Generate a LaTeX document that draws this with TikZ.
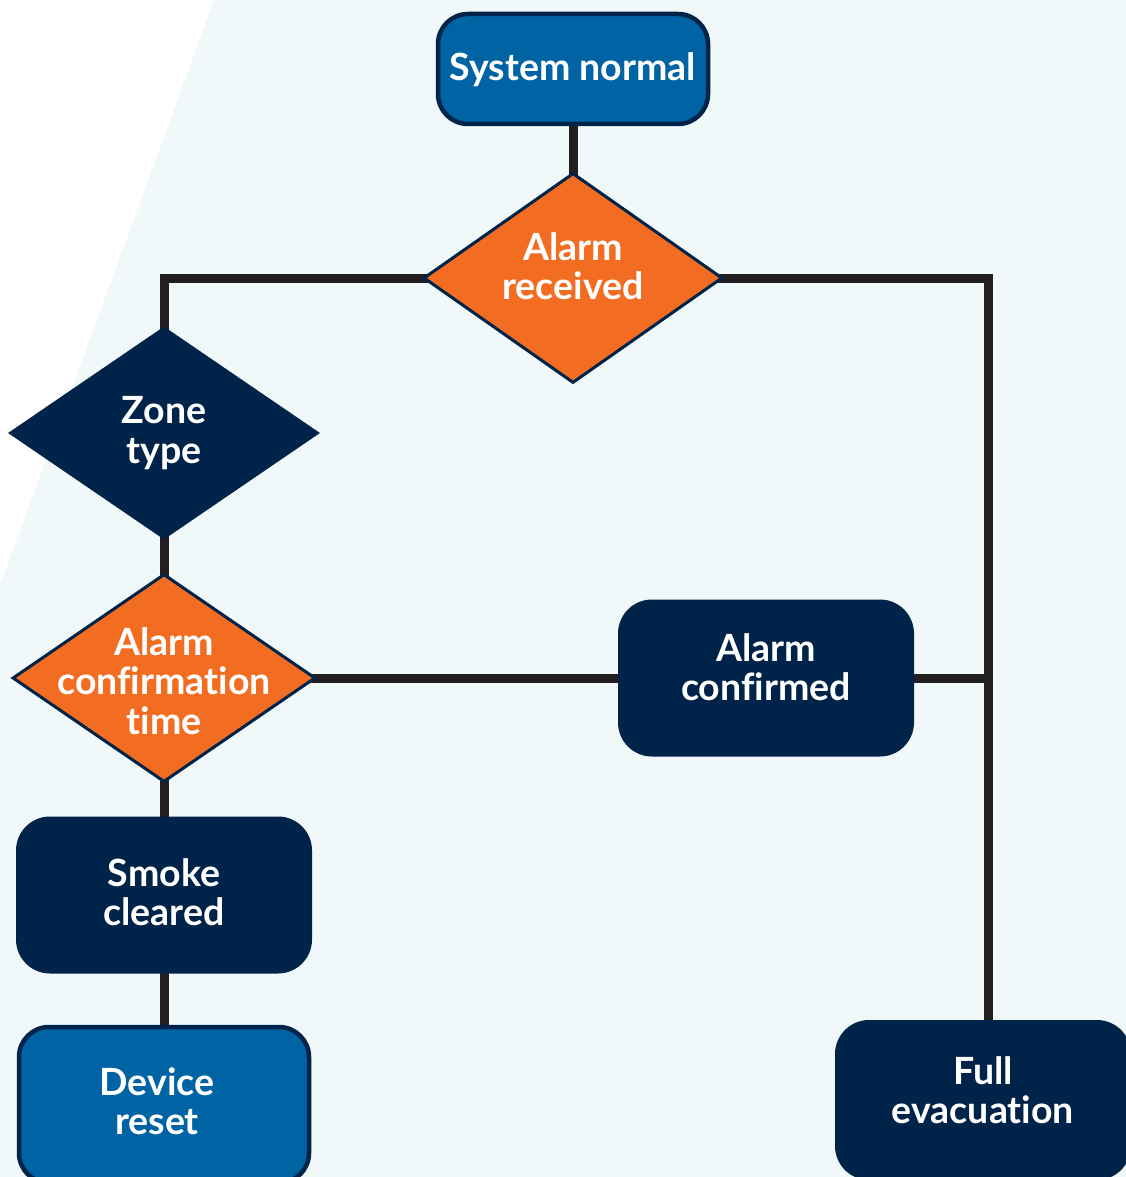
\documentclass[tikz,border=0pt]{standalone}
\usepackage{fontspec}
\setmainfont{Lato}[Ligatures={NoCommon,NoRare}]
\usetikzlibrary{shapes.geometric,backgrounds}
\pgfdeclarelayer{wires}
\pgfsetlayers{background,wires,main}
\definecolor{bgblue}{HTML}{F0F8FA}
\definecolor{navy}{HTML}{00234A}
\definecolor{midblue}{HTML}{0064A4}
\definecolor{orng}{HTML}{F26D21}
\definecolor{wire}{HTML}{231F20}
\begin{document}
\begin{tikzpicture}[x=1pt,y=-1pt,
  lbl/.style={text=white,font=\fontsize{37.5}{39.5}\selectfont\bfseries,align=center,inner sep=0pt},
  navybox/.style={rectangle,rounded corners=34pt,fill=navy,minimum width=296pt,minimum height=157pt,inner sep=0pt},
  bluebox/.style={rectangle,rounded corners=30pt,fill=midblue,draw=navy,line width=4.5pt,inner sep=0pt},
  orangedia/.style={diamond,fill=orng,draw=navy,line width=3pt,inner sep=0pt},
  navydia/.style={diamond,fill=navy,inner sep=0pt},
  wireline/.style={draw=wire,line width=9pt,line join=miter}]
\useasboundingbox (0,0) rectangle (1126,1177);
\begin{scope}[on background layer]
\fill[bgblue] (0,0) rectangle (1126,1177);
\fill[white] (0,0) -- (214,0) -- (0,585) -- cycle;
\end{scope}
\begin{scope}
\clip (0,0) rectangle (1126,1177);
\node[bluebox,minimum width=270pt,minimum height=110pt,
  label={[lbl,yshift=-1pt]center:System normal}] (sn) at (573,69) {};
\node[orangedia,minimum width=299pt,minimum height=210pt,
  label={[lbl,yshift=12pt]center:Alarm\\received}] (ar) at (573,278) {};
\node[navydia,minimum width=312pt,minimum height=213pt,
  label={[lbl]center:Zone\\type}] (zt) at (164,433) {};
\node[orangedia,minimum width=303pt,minimum height=208pt,
  label={[lbl,yshift=-3pt]center:Alarm\\confirmation\\time}] (act) at (164,678) {};
\node[navybox,
  label={[lbl,yshift=11pt]center:Alarm\\confirmed}] (ac) at (766,678) {};
\node[navybox,
  label={[lbl,yshift=3pt]center:Smoke\\cleared}] (sc) at (164,895) {};
\node[bluebox,minimum width=290pt,minimum height=156pt,
  label={[lbl,xshift=-7pt,yshift=4pt]center:Device\\reset}] (dr) at (164,1105) {};
\node[navybox,minimum height=160pt,
  label={[lbl,yshift=10pt]center:Full\\evacuation}] (fe) at (983,1100) {};
\coordinate (jct) at (988,678);
\begin{pgfonlayer}{wires}
\draw[wireline] (sn.center) -- (ar.center);
\draw[wireline] (ar.center) -| (zt.center);
\draw[wireline] (ar.center) -| (jct) -- (jct |- fe.center);
\draw[wireline] (zt.center) -- (act.center);
\draw[wireline] (act.center) -- (ac.center);
\draw[wireline] (ac.center) -- (jct);
\draw[wireline] (act.center) -- (sc.center);
\draw[wireline] (sc.center) -- (dr.center);
\end{pgfonlayer}
\end{scope}
\end{tikzpicture}
\end{document}
